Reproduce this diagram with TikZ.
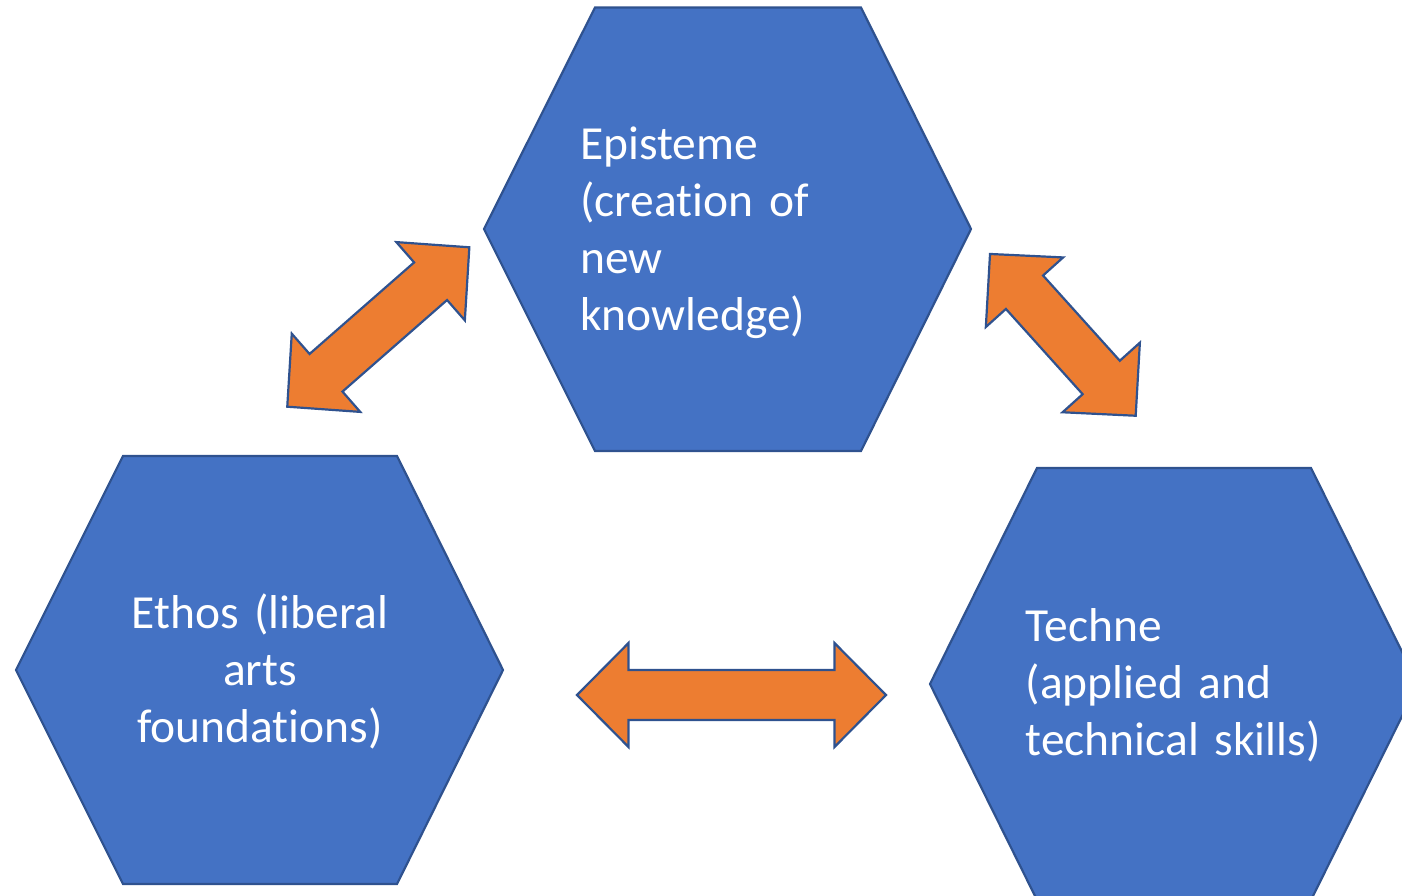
\documentclass[tikz,border=0pt]{standalone}
\usepackage{fontspec}
\setmainfont{Carlito}[Ligatures=NoCommon, WordSpace=0.8]
\definecolor{hexfill}{HTML}{4472C4}
\definecolor{hexline}{HTML}{2F528F}
\definecolor{arrowfill}{HTML}{ED7D31}
\begin{document}
\begin{tikzpicture}[x=1pt,y=-1pt,
  hexagon/.style={fill=hexfill, draw=hexline, line width=2.2pt, line join=miter},
  blockarrow/.style={fill=arrowfill, draw=hexline, line width=2.2pt, line join=miter},
  hextext/.style={text=white, inner sep=0pt, text width=#1,
    font=\fontsize{47.5}{57}\selectfont},
  hextext/.default=300pt,
  % double-headed block arrow centred on the pic origin, half length #1
  pics/dblarrow/.style={code={
    \draw[blockarrow] (#1,0) -- (#1-51.5,52) -- (#1-51.5,25) -- (-#1+51.5,25)
      -- (-#1+51.5,52) -- (-#1,0) -- (-#1+51.5,-52) -- (-#1+51.5,-25)
      -- (#1-51.5,-25) -- (#1-51.5,-52) -- cycle;
  }},
]
\useasboundingbox (0,0) rectangle (1402,896);
\clip (0,0) rectangle (1402,896);

% the three hexagons
\draw[hexagon] (595,7.5) -- (861,7.5) -- (971,229) -- (861,451)
  -- (595,451) -- (484,229) -- cycle;
\draw[hexagon] (123,456) -- (397,456) -- (503,670) -- (397,884)
  -- (123,884) -- (16,670) -- cycle;
\draw[hexagon] (1037,468) -- (1311,468) -- (1418,684) -- (1311,900)
  -- (1037,900) -- (930,684) -- cycle;

% labels
\node[hextext, align=left, anchor=base west] (episteme) at (580,160)
  {Episteme\\(creation of\\new\\knowledge)};
\node[hextext, align=center, anchor=base] (ethos) at (260,628.5)
  {Ethos (liberal\\arts\\foundations)};
\node[hextext=330pt, align=left, anchor=base west] (techne) at (1025.5,641.7)
  {Techne\\(applied and\\technical skills)};

% block arrows between the hexagons
\coordinate (ethosEpisteme) at (378.3,327);
\coordinate (epistemeTechne) at (1062.85,334.85);
\coordinate (ethosTechne) at (731.5,695);
\pic[rotate=41.2] at (ethosEpisteme) {dblarrow=121};
\pic[rotate=-48] at (epistemeTechne) {dblarrow=108.85};
\pic at (ethosTechne) {dblarrow=154.5};
\end{tikzpicture}
\end{document}
